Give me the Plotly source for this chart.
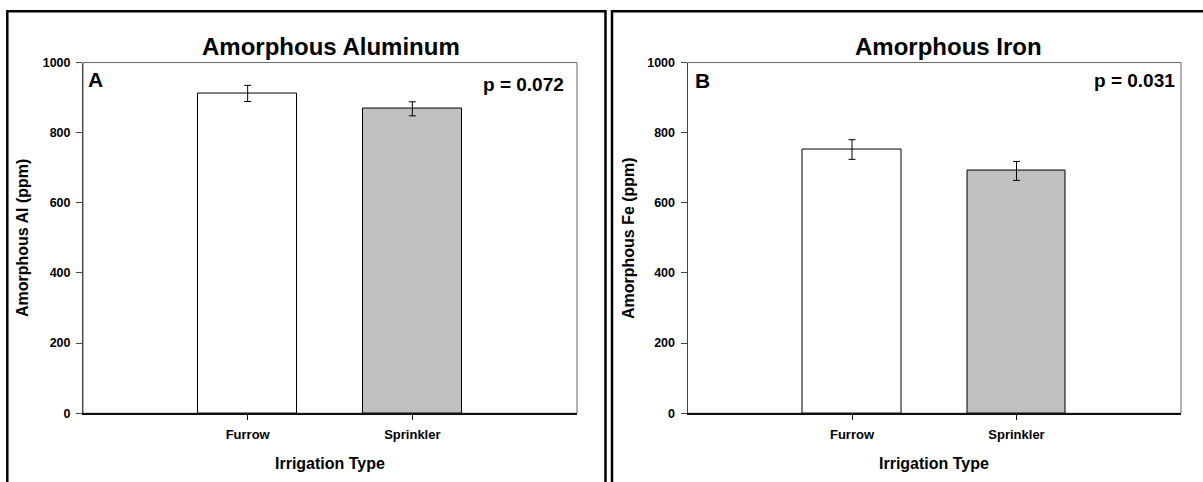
import plotly.graph_objects as go

W, H = 1203, 482

categories = ["Furrow", "Sprinkler"]
al_means = [912, 868]
al_se = [23, 20]
fe_means = [752, 691]
fe_se = [28, 27]
bar_colors = ["#FFFFFF", "#C0C0C0"]
y_ticks = [0, 200, 400, 600, 800, 1000]

panel_titles = ["Amorphous Aluminum", "Amorphous Iron"]
y_titles = ["Amorphous Al (ppm)", "Amorphous Fe (ppm)"]
x_title = "Irrigation Type"
panel_letters = ["A", "B"]
p_values = ["p = 0.072", "p = 0.031"]

FONT = "Arial, Liberation Sans, sans-serif"

def px(v):
    return v / W

def py(v):
    return 1 - v / H

fig = go.Figure()

x_dom = [(83, 577), (687.5, 1181)]
y_top, y_bot = 57.2, 418.4

for i, (means, se) in enumerate([(al_means, al_se), (fe_means, fe_se)]):
    xa = "x" if i == 0 else "x2"
    ya = "y" if i == 0 else "y2"
    fig.add_trace(go.Bar(
        x=categories, y=means, width=0.6,
        marker=dict(color=bar_colors, line=dict(color="black", width=1)),
        error_y=dict(type="data", array=se, visible=True, color="black",
                     thickness=1, width=3.5),
        xaxis=xa, yaxis=ya, showlegend=False,
    ))

common_x = dict(
    type="category", range=[-1, 2], showgrid=False, zeroline=False,
    showline=True, linecolor="#111111", linewidth=1.5,
    ticks="outside", ticklen=5, tickcolor="#111111", tickwidth=1,
    ticklabelstandoff=3,
    tickfont=dict(family=FONT, size=13, color="black", weight="bold"),
)
common_y = dict(
    range=[0, 1000], tickvals=y_ticks, showgrid=False, zeroline=False,
    showline=True, linecolor="#444444", linewidth=1,
    ticks="outside", ticklen=6, tickcolor="#444444", tickwidth=1,
    ticklabelstandoff=3,
    tickfont=dict(family=FONT, size=12.5, color="black", weight="bold"),
)

fig.update_layout(
    width=W, height=H,
    margin=dict(l=0, r=0, t=0, b=0),
    paper_bgcolor="white", plot_bgcolor="white",
    bargap=0,
    xaxis=dict(domain=[px(x_dom[0][0]), px(x_dom[0][1])], anchor="y", **common_x),
    yaxis=dict(domain=[py(y_bot), py(y_top)], anchor="x", **common_y),
    xaxis2=dict(domain=[px(x_dom[1][0]), px(x_dom[1][1])], anchor="y2", **common_x),
    yaxis2=dict(domain=[py(y_bot), py(y_top)], anchor="x2", **common_y),
)

shapes = []
for xr, yr in [("x domain", "y domain"), ("x2 domain", "y2 domain")]:
    shapes.append(dict(type="rect", xref=xr, yref=yr, x0=0, x1=1, y0=0, y1=1,
                       line=dict(color="#666666", width=1), layer="below"))
shapes.append(dict(type="rect", xref="paper", yref="paper",
                   x0=px(7.3), x1=px(605.5), y0=-0.1, y1=py(4.3),
                   line=dict(color="black", width=2.5)))
shapes.append(dict(type="rect", xref="paper", yref="paper",
                   x0=px(612), x1=1.05, y0=-0.1, y1=py(4.3),
                   line=dict(color="black", width=2.5)))
fig.update_layout(shapes=shapes)

ann = []
title_x = [330.5, 948]
ytitle_x = [22, 628]
letter_pos = [(86, 74.5), (692.5, 76)]
p_pos = [(566, 80), (1176.5, 75.3)]
for i in range(2):
    ann.append(dict(text=panel_titles[i], x=px(title_x[i]), y=py(41), xref="paper", yref="paper",
                    xanchor="center", yanchor="middle", showarrow=False,
                    font=dict(family=FONT, size=24, color="black", weight="bold")))
    ann.append(dict(text=y_titles[i], x=px(ytitle_x[i]), y=py(238), xref="paper", yref="paper",
                    xanchor="center", yanchor="middle", showarrow=False, textangle=-90,
                    font=dict(family=FONT, size=16, color="black", weight="bold")))
    ann.append(dict(text=x_title, x=px((x_dom[i][0] + x_dom[i][1]) / 2), y=py(470),
                    xref="paper", yref="paper",
                    xanchor="center", yanchor="middle", showarrow=False,
                    font=dict(family=FONT, size=16, color="black", weight="bold")))
    ann.append(dict(text=panel_letters[i], x=px(letter_pos[i][0]), y=py(letter_pos[i][1]),
                    xref="paper", yref="paper",
                    xanchor="left", yanchor="middle", showarrow=False,
                    font=dict(family=FONT, size=21, color="black", weight="bold")))
    ann.append(dict(text=p_values[i], x=px(p_pos[i][0]), y=py(p_pos[i][1]),
                    xref="paper", yref="paper",
                    xanchor="right", yanchor="middle", showarrow=False,
                    font=dict(family=FONT, size=19, color="black", weight="bold")))
fig.update_layout(annotations=ann)

fig.write_html("out.html")
